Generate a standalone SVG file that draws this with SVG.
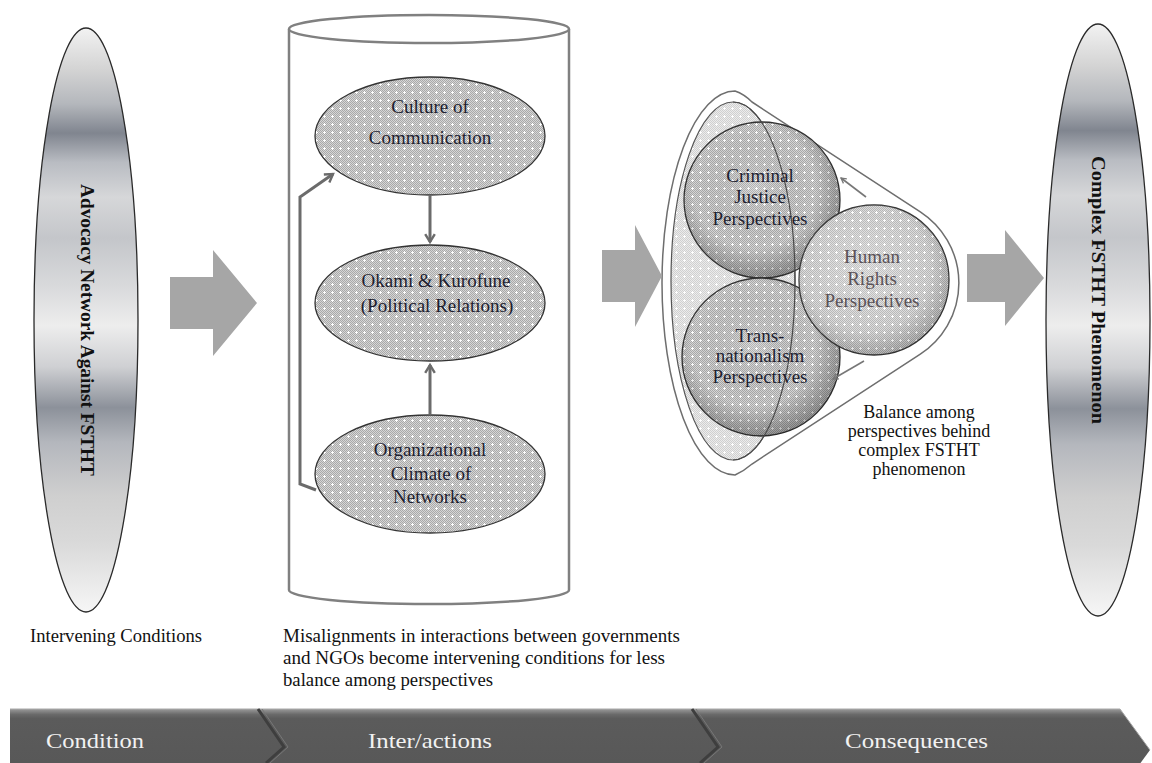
<svg xmlns="http://www.w3.org/2000/svg" width="1152" height="763" viewBox="0 0 1152 763">
  <defs>
    <style>
      .lbl { font-family: "Liberation Serif", "Times New Roman", serif; font-size: 19px; fill: #1e1e30; text-anchor: middle; }
      .lbl-soft { font-family: "Liberation Serif", "Times New Roman", serif; font-size: 19px; fill: #5a5258; text-anchor: middle; }
      .vtext { font-family: "Liberation Serif", "Times New Roman", serif; font-size: 18px; font-weight: bold; fill: #111; text-anchor: middle; }
      .note { font-family: "Liberation Serif", "Times New Roman", serif; font-size: 18px; fill: #111; }
      .band { font-family: "Liberation Serif", "Times New Roman", serif; font-size: 22px; fill: #f2f2f2; }
      .bubble { stroke: #333; stroke-width: 1.3; }
      .flow { fill: none; stroke: #6b6b6b; stroke-width: 3; marker-end: url(#head); }
      .flow-thin { fill: none; stroke: #777; stroke-width: 1.6; marker-end: url(#head-s); }
      .block { fill: #a6a6a6; }
      .metal { fill: url(#metal); stroke: #2a2a2a; stroke-width: 1.3; }
    </style>

    <!-- fine checker texture used inside bubbles -->
    <pattern id="chk" width="2" height="2" patternUnits="userSpaceOnUse">
      <rect width="2" height="2" fill="#d6d6d6"/>
      <rect width="1" height="1" fill="#a9a9a9"/>
      <rect x="1" y="1" width="1" height="1" fill="#a9a9a9"/>
    </pattern>
    <pattern id="dots" width="8" height="8" patternUnits="userSpaceOnUse">
      <rect width="8" height="8" fill="url(#chk)"/>
      <rect x="3" y="4" width="3" height="1" fill="#fff"/>
      <rect x="4" y="3" width="1" height="3" fill="#fff"/>
    </pattern>
    <pattern id="chk-light" width="2" height="2" patternUnits="userSpaceOnUse">
      <rect width="2" height="2" fill="#ececec"/>
      <rect width="1" height="1" fill="#d0d0d0"/>
      <rect x="1" y="1" width="1" height="1" fill="#d0d0d0"/>
    </pattern>
    <pattern id="dots-light" width="8" height="8" patternUnits="userSpaceOnUse">
      <rect width="8" height="8" fill="url(#chk-light)"/>
      <rect x="3" y="4" width="3" height="1" fill="#fff"/>
      <rect x="4" y="3" width="1" height="3" fill="#fff"/>
    </pattern>

    <!-- sphere shading laid over the perspective circles -->
    <radialGradient id="shade" cx="0.45" cy="0.42" r="0.6">
      <stop offset="0" stop-color="#fff" stop-opacity="0.15"/>
      <stop offset="0.65" stop-color="#000" stop-opacity="0"/>
      <stop offset="1" stop-color="#000" stop-opacity="0.32"/>
    </radialGradient>
    <radialGradient id="shade-light" cx="0.45" cy="0.42" r="0.6">
      <stop offset="0" stop-color="#fff" stop-opacity="0.35"/>
      <stop offset="0.7" stop-color="#fff" stop-opacity="0.15"/>
      <stop offset="1" stop-color="#000" stop-opacity="0.18"/>
    </radialGradient>

    <!-- banded metallic fill of the two end ellipses -->
    <linearGradient id="metal" x1="0" y1="0" x2="0" y2="1">
      <stop offset="0" stop-color="#f2f2f2"/>
      <stop offset="0.07" stop-color="#d4d4d4"/>
      <stop offset="0.13" stop-color="#b4b7bc"/>
      <stop offset="0.18" stop-color="#80858f"/>
      <stop offset="0.23" stop-color="#b9bcc2"/>
      <stop offset="0.29" stop-color="#d6d7d9"/>
      <stop offset="0.36" stop-color="#c4c6ca"/>
      <stop offset="0.44" stop-color="#d8d9db"/>
      <stop offset="0.51" stop-color="#ededed"/>
      <stop offset="0.58" stop-color="#cfd0d3"/>
      <stop offset="0.65" stop-color="#8c919a"/>
      <stop offset="0.71" stop-color="#b4b7bd"/>
      <stop offset="0.80" stop-color="#cfcfcf"/>
      <stop offset="0.88" stop-color="#d9d9d9"/>
      <stop offset="1" stop-color="#f6f6f6"/>
    </linearGradient>

    <linearGradient id="bar" x1="0" y1="0" x2="0" y2="1">
      <stop offset="0" stop-color="#9a9a9a"/>
      <stop offset="0.1" stop-color="#6a6a6a"/>
      <stop offset="0.18" stop-color="#5b5b5b"/>
      <stop offset="1" stop-color="#585858"/>
    </linearGradient>

    <marker id="head" viewBox="0 0 10 10" refX="8" refY="5" markerWidth="4" markerHeight="4" orient="auto">
      <path d="M1.5 1 L8 5 L1.5 9" fill="none" stroke="#6b6b6b" stroke-width="2"/>
    </marker>
    <marker id="head-s" viewBox="0 0 10 10" refX="8" refY="5" markerWidth="5" markerHeight="5" orient="auto">
      <path d="M1.5 1.5 L8 5 L1.5 8.5" fill="none" stroke="#777" stroke-width="1.6"/>
    </marker>
  </defs>

  <rect width="1152" height="763" fill="#fff"/>

  <!-- condition: advocacy network -->
  <g id="advocacy-network">
    <ellipse class="metal" cx="86" cy="320" rx="52" ry="292"/>
    <text class="vtext" transform="translate(81,330) rotate(90)" textLength="292" lengthAdjust="spacingAndGlyphs">Advocacy Network Against FSTHT</text>
  </g>
  <text id="intervening-label" class="note" x="30" y="642" textLength="172" lengthAdjust="spacingAndGlyphs">Intervening Conditions</text>

  <!-- interactions: cylinder with three factors -->
  <g id="interactions-cylinder">
    <path d="M289 29 V590 A140 14 0 0 0 569 590 V29" fill="#fff" stroke="#808080" stroke-width="2.5"/>
    <ellipse cx="429" cy="29" rx="140" ry="14" fill="#fff" stroke="#808080" stroke-width="2.5"/>
  </g>

  <g id="culture-of-communication">
    <ellipse class="bubble" cx="430" cy="136" rx="115" ry="59" fill="url(#dots)"/>
    <text class="lbl" x="430" y="113">Culture of</text>
    <text class="lbl" x="430" y="144">Communication</text>
  </g>

  <g id="okami-kurofune">
    <ellipse class="bubble" cx="430" cy="303" rx="115" ry="58" fill="url(#dots)"/>
    <text class="lbl" x="436" y="287">Okami &amp; Kurofune</text>
    <text class="lbl" x="437" y="312">(Political Relations)</text>
  </g>

  <g id="organizational-climate">
    <ellipse class="bubble" cx="430" cy="474" rx="115" ry="59" fill="url(#dots)"/>
    <text class="lbl" x="430" y="456">Organizational</text>
    <text class="lbl" x="431" y="480">Climate of</text>
    <text class="lbl" x="430" y="503">Networks</text>
  </g>

  <g id="misalignments-label" class="note">
    <text x="283" y="642" textLength="397" lengthAdjust="spacingAndGlyphs">Misalignments in interactions  between governments</text>
    <text x="283" y="664" textLength="382" lengthAdjust="spacingAndGlyphs">and NGOs become intervening conditions  for less</text>
    <text x="283" y="686" textLength="210" lengthAdjust="spacingAndGlyphs">balance among perspectives</text>
  </g>

  <!-- consequences: balance of perspectives -->
  <g id="perspectives-frame">
    <path d="M752 102 L920.3 211.8 A85 85 0 0 1 920.3 354.2 L752 464 Q744 471 735 475 A73 192 0 0 1 735 91 Q744 94 752 102 Z" fill="#fff" stroke="#6e6e6e" stroke-width="1.5"/>
    <ellipse cx="733" cy="281" rx="62" ry="179" fill="url(#dots-light)" stroke="#555" stroke-width="1.2"/>
  </g>

  <g id="criminal-justice">
    <circle class="bubble" cx="762" cy="200" r="78" fill="url(#dots)"/>
    <circle cx="762" cy="200" r="78" fill="url(#shade)"/>
  </g>
  <g id="transnationalism">
    <circle class="bubble" cx="761" cy="357" r="79" fill="url(#dots)"/>
    <circle cx="761" cy="357" r="79" fill="url(#shade)"/>
  </g>
  <!-- right rim of the inner ellipse shows across both circles -->
  <path d="M733 102 A62 179 0 0 1 733 460" fill="none" stroke="#4a4a4a" stroke-width="1.2"/>

  <g id="human-rights">
    <circle class="bubble" cx="874" cy="280" r="75" fill="url(#dots)"/>
    <circle cx="874" cy="280" r="75" fill="url(#shade-light)"/>
  </g>

  <g id="perspective-labels">
    <text class="lbl" x="760" y="182">Criminal</text>
    <text class="lbl" x="760" y="203">Justice</text>
    <text class="lbl" x="760" y="225">Perspectives</text>
    <text class="lbl" x="760" y="342">Trans-</text>
    <text class="lbl" x="760" y="362">nationalism</text>
    <text class="lbl" x="760" y="383">Perspectives</text>
    <text class="lbl-soft" x="872" y="263">Human</text>
    <text class="lbl-soft" x="872" y="285">Rights</text>
    <text class="lbl-soft" x="872" y="307">Perspectives</text>
  </g>

  <g id="balance-label" class="note" text-anchor="middle" font-size="16.5">
    <text x="919" y="418">Balance among</text>
    <text x="919" y="437">perspectives behind</text>
    <text x="919" y="456">complex FSTHT</text>
    <text x="919" y="475">phenomenon</text>
  </g>

  <g id="fsttht-phenomenon">
    <ellipse class="metal" cx="1098" cy="320" rx="52" ry="296"/>
    <text class="vtext" transform="translate(1092,290) rotate(90)" textLength="268" lengthAdjust="spacingAndGlyphs">Complex FSTHT Phenomenon</text>
  </g>

  <!-- connectors -->
  <g id="connectors">
    <path class="block" d="M170 277 H213 V250 L257 303 L213 356 V329 H170 Z"/>
    <path class="block" d="M602 250 H635 V225 L662 276 L635 327 V302 H602 Z"/>
    <path class="block" d="M967 254 H1005 V230 L1044 278 L1005 326 V302 H967 Z"/>

    <line class="flow" x1="430" y1="196" x2="430" y2="242"/>
    <line class="flow" x1="430" y1="414" x2="430" y2="365"/>
    <polyline class="flow" points="316,490 300,484 300,197 333,174"/>

    <line class="flow-thin" x1="866" y1="197" x2="841" y2="178"/>
    <line class="flow-thin" x1="864" y1="361" x2="833" y2="379"/>
  </g>

  <!-- phase band along the bottom -->
  <g id="phase-band">
    <path d="M10 709 H1120 L1150 750 L1140.5 763 H10 Z" fill="url(#bar)"/>
    <path d="M10 709 H1120 L1150 750" fill="none" stroke="#a8a8a8" stroke-width="1"/>
    <path d="M258 709 L284 747 L266 763" fill="none" stroke="#3e3e3e" stroke-width="3"/>
    <path d="M262 709 L288 747 L270 763" fill="none" stroke="#777" stroke-width="1"/>
    <path d="M692 709 L718 747 L700 763" fill="none" stroke="#3e3e3e" stroke-width="3"/>
    <path d="M696 709 L722 747 L704 763" fill="none" stroke="#777" stroke-width="1"/>
    <text class="band" x="46" y="748" textLength="98" lengthAdjust="spacingAndGlyphs">Condition</text>
    <text class="band" x="368" y="748" textLength="124" lengthAdjust="spacingAndGlyphs">Inter/actions</text>
    <text class="band" x="845" y="748" textLength="143" lengthAdjust="spacingAndGlyphs">Consequences</text>
  </g>
</svg>
